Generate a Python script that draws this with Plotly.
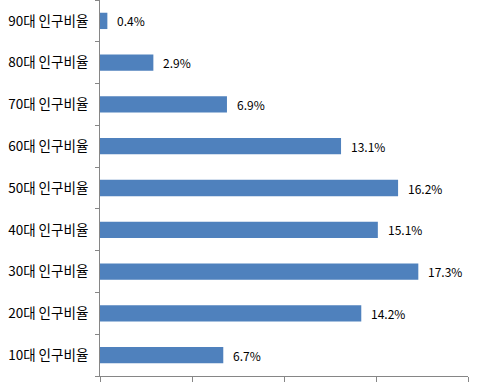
import plotly.graph_objects as go

categories = ["10대 인구비율", "20대 인구비율", "30대 인구비율", "40대 인구비율", "50대 인구비율",
              "60대 인구비율", "70대 인구비율", "80대 인구비율", "90대 인구비율"]
values = [6.7, 14.2, 17.3, 15.1, 16.2, 13.1, 6.9, 2.9, 0.4]
labels = [f"{v:.1f}%" for v in values]

fig = go.Figure()
fig.add_trace(go.Bar(
    x=values, y=categories, orientation="h",
    marker=dict(color="#4F81BD", line=dict(width=0)),
    hoverinfo="skip",
))
for v, c, t in zip(values, categories, labels):
    fig.add_annotation(x=v, y=c, text=t, showarrow=False, xanchor="left", xshift=8,
                       font=dict(family="Noto Sans CJK KR", size=12, color="#000000"))

fig.update_layout(
    width=482, height=384,
    margin=dict(l=100, r=14, t=0, b=8, autoexpand=False),
    paper_bgcolor="white", plot_bgcolor="white",
    bargap=0.61, showlegend=False,
    font=dict(family="Noto Sans CJK KR", size=12, color="#000000"),
)
fig.update_xaxes(range=[0, 20], dtick=5, tick0=0, showticklabels=False, ticks="outside",
                 ticklen=5, tickcolor="#868686", showline=True, linecolor="#868686",
                 showgrid=False, zeroline=False, fixedrange=True, automargin=False)
fig.update_yaxes(type="category", categoryorder="array", categoryarray=categories,
                 range=[-0.5, 8.5], ticks="outside", tickson="boundaries", ticklen=4,
                 tickcolor="#868686", showline=True, linecolor="#868686", showgrid=False,
                 zeroline=False, ticklabelstandoff=8, tickfont=dict(size=13.5),
                 fixedrange=True, automargin=False)

fig.write_html("out.html", config={"displayModeBar": False},
               post_script="document.body.style.margin='0';document.body.style.padding='0';")
